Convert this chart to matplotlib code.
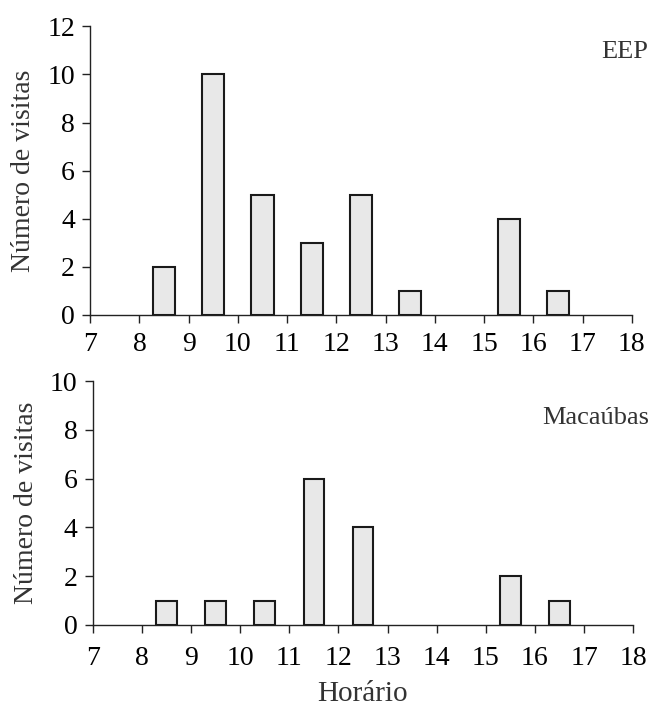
import matplotlib
matplotlib.use("Agg")
import matplotlib.pyplot as plt

# Horário (centro da meia hora) e número de visitas
horas = [8.5, 9.5, 10.5, 11.5, 12.5, 13.5, 15.5, 16.5]
visitas_eep = [2, 10, 5, 3, 5, 1, 4, 1]

horas_mac = [8.5, 9.5, 10.5, 11.5, 12.5, 15.5, 16.5]
visitas_mac = [1, 1, 1, 6, 4, 2, 1]

xticks = list(range(7, 19))

plt.rcParams["font.family"] = ["Liberation Serif", "DejaVu Serif"]

fig = plt.figure(figsize=(6.63, 7.11), dpi=100)
ax1 = fig.add_axes([0.136, 0.557, 0.817, 0.406])
ax2 = fig.add_axes([0.140, 0.121, 0.815, 0.343])


def estilo(ax, ymax, rotulo, ry, xpad):
    ax.set_xlim(7, 18)
    ax.set_ylim(0, ymax)
    ax.set_xticks(xticks)
    ax.set_yticks(range(0, ymax + 1, 2))
    for s in ("top", "right"):
        ax.spines[s].set_visible(False)
    for s in ("left", "bottom"):
        ax.spines[s].set_color("#222222")
        ax.spines[s].set_linewidth(1.0)
    ax.tick_params(axis="both", direction="out", length=6, width=1.0,
                   labelsize=20, colors="#222222", labelcolor="black")
    ax.tick_params(axis="x", pad=xpad)
    ax.tick_params(axis="y", pad=5)
    ax.set_ylabel("Número de visitas", fontsize=20, color="#333333",
                  labelpad=8)
    ax.text(1.03, ry, rotulo, transform=ax.transAxes, ha="right",
            va="center", fontsize=19, color="#333333")


ax1.bar(horas, visitas_eep, width=0.45, color="#e8e8e8",
        edgecolor="#1a1a1a", linewidth=1.5, zorder=3)
estilo(ax1, 12, "EEP", 0.91, 6)

ax2.bar(horas_mac, visitas_mac, width=0.42, color="#e8e8e8",
        edgecolor="#1a1a1a", linewidth=1.5, zorder=3)
estilo(ax2, 10, "Macaúbas", 0.85, 9)
ax2.set_xlabel("Horário", fontsize=21, color="#333333", labelpad=7)

fig.savefig("out.png", dpi=100)
